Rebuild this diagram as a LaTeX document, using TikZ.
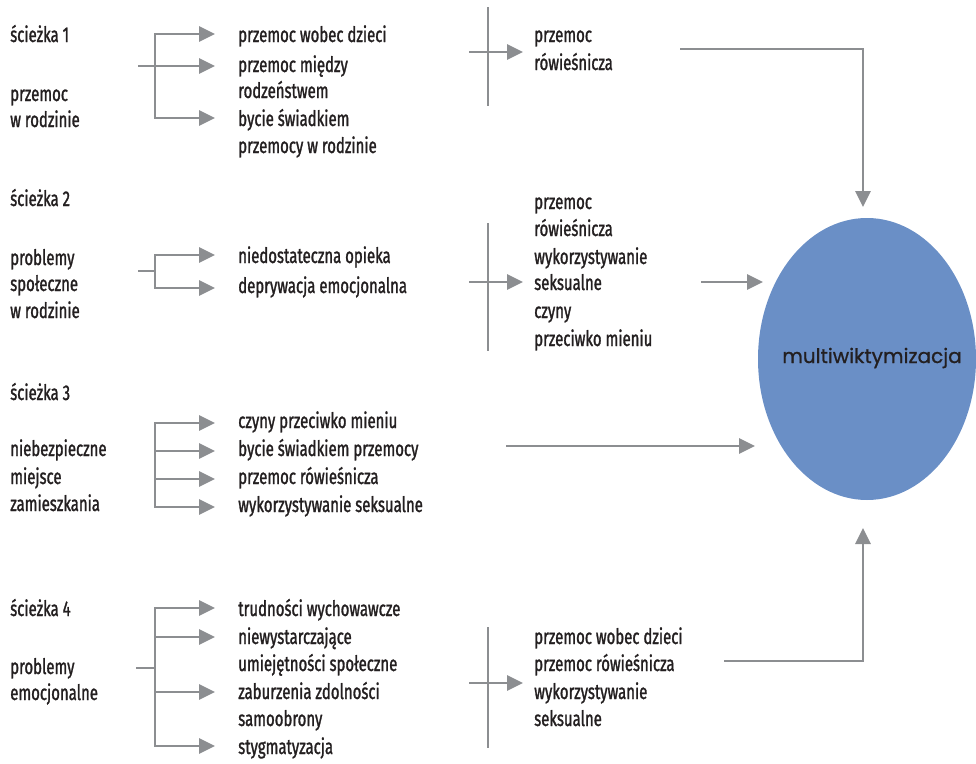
\documentclass[tikz,border=0pt]{standalone}
\usepackage{fontspec}
\setmainfont{Fira Sans}[FakeStretch=0.70,FakeBold=1.3,BoldFont={Fira Sans}]
\newfontfamily\ellfont{Poppins}[FakeBold=0.8,BoldFont={Poppins}]
\usetikzlibrary{arrows.meta,shapes.geometric}
\definecolor{txt}{HTML}{231F20}
\definecolor{ln}{HTML}{8C8E91}
\definecolor{ellc}{HTML}{6A8FC6}
\tikzset{
  lbl/.style={anchor=base west, inner sep=0pt, text=txt, font=\fontsize{16pt}{20pt}\selectfont\bfseries},
  conn/.style={draw=ln, line width=1.3pt, line cap=rect},
  arr/.style={conn, -{Triangle[length=12pt,width=11.5pt]}},
}
\begin{document}
\begin{tikzpicture}[x=0.75pt,y=-0.75pt]
\useasboundingbox (0,0) rectangle (976,764);

% ---------- texts, path 1
\node[lbl] (p1) at (10,42) {ścieżka 1};
\node[lbl] (p1a) at (10,101) {przemoc};
\node[lbl] (p1b) at (10,127) {w rodzinie};
\node[lbl] (m1a) at (238,42) {przemoc wobec dzieci};
\node[lbl] (m1b) at (238,72) {przemoc między};
\node[lbl] (m1c) at (238,98) {rodzeństwem};
\node[lbl] (m1d) at (238,126) {bycie świadkiem};
\node[lbl] (m1e) at (238,153) {przemocy w rodzinie};
\node[lbl] (r1a) at (534,42) {przemoc};
\node[lbl] (r1b) at (534,70) {rówieśnicza};

% ---------- texts, path 2
\node[lbl] (p2) at (10,206) {ścieżka 2};
\node[lbl] (p2a) at (10,265) {problemy};
\node[lbl] (p2b) at (10,291) {społeczne};
\node[lbl] (p2c) at (10,318) {w rodzinie};
\node[lbl] (m2a) at (238,263) {niedostateczna opieka};
\node[lbl] (m2b) at (238,293) {deprywacja emocjonalna};
\node[lbl] (r2a) at (534,209) {przemoc};
\node[lbl] (r2b) at (534,236) {rówieśnicza};
\node[lbl] (r2c) at (534,264) {wykorzystywanie};
\node[lbl] (r2d) at (534,290) {seksualne};
\node[lbl] (r2e) at (534,318) {czyny};
\node[lbl] (r2f) at (534,346) {przeciwko mieniu};

% ---------- texts, path 3
\node[lbl] (p3) at (10,400) {ścieżka 3};
\node[lbl] (p3a) at (10,456) {niebezpieczne};
\node[lbl] (p3b) at (10,484) {miejsce};
\node[lbl] (p3c) at (10,511) {zamieszkania};
\node[lbl] (m3a) at (238,428) {czyny przeciwko mieniu};
\node[lbl] (m3b) at (238,456) {bycie świadkiem przemocy};
\node[lbl] (m3c) at (238,484) {przemoc rówieśnicza};
\node[lbl] (m3d) at (238,512) {wykorzystywanie seksualne};

% ---------- texts, path 4
\node[lbl] (p4) at (10,616) {ścieżka 4};
\node[lbl] (p4a) at (10,674) {problemy};
\node[lbl] (p4b) at (10,700) {emocjonalne};
\node[lbl] (m4a) at (238,616) {trudności wychowawcze};
\node[lbl] (m4b) at (238,644) {niewystarczające};
\node[lbl] (m4c) at (238,671) {umiejętności społeczne};
\node[lbl] (m4d) at (238,699) {zaburzenia zdolności};
\node[lbl] (m4e) at (238,726) {samoobrony};
\node[lbl] (m4f) at (238,754) {stygmatyzacja};
\node[lbl] (r4a) at (534,644) {przemoc wobec dzieci};
\node[lbl] (r4b) at (534,671) {przemoc rówieśnicza};
\node[lbl] (r4c) at (534,699) {wykorzystywanie};
\node[lbl] (r4d) at (534,726) {seksualne};

% ---------- ellipse
\node[ellipse, fill=ellc, draw=none, minimum width=163.5pt, minimum height=211.5pt, inner sep=0pt] (mv) at (867,359) {};
\node[inner sep=0pt, text=txt, font=\ellfont\fontsize{15pt}{18pt}\selectfont\bfseries] (mvt) at (872,358) {multiwiktymizacja};

% ---------- path 1 connectors
\coordinate (s1) at (139,66);
\coordinate (b1t) at (155,34);
\coordinate (b1b) at (155,118);
\coordinate (a1a) at (215,34);
\coordinate (a1b) at (215,66);
\coordinate (a1c) at (215,118);
\draw[arr] (b1b) -- (b1t) -- (a1a);
\draw[arr] (s1) -- (a1b);
\draw[arr] (b1b) -- (a1c);

\coordinate (v1t) at (488,8);
\coordinate (v1b) at (488,105);
\coordinate (h1s) at (470,52);
\coordinate (h1e) at (523,52);
\draw[conn] (v1t) -- (v1b);
\draw[arr] (h1s) -- (h1e);

\coordinate (l1s) at (681,49);
\coordinate (l1c) at (863,49);
\coordinate (l1e) at (863,207);
\draw[arr] (l1s) -- (l1c) -- (l1e);

% ---------- path 2 connectors
\coordinate (s2) at (139,271);
\coordinate (b2m) at (155,271);
\coordinate (b2t) at (155,255);
\coordinate (b2b) at (155,288);
\coordinate (a2a) at (215,255);
\coordinate (a2b) at (215,288);
\draw[conn] (s2) -- (b2m);
\draw[arr] (b2b) -- (b2t) -- (a2a);
\draw[arr] (b2b) -- (a2b);

\coordinate (v2t) at (488,224);
\coordinate (v2b) at (488,350);
\coordinate (h2s) at (470,282);
\coordinate (h2e) at (523,282);
\draw[conn] (v2t) -- (v2b);
\draw[arr] (h2s) -- (h2e);

\coordinate (l2s) at (702,282);
\coordinate (l2e) at (763,282);
\draw[arr] (l2s) -- (l2e);

% ---------- path 3 connectors
\coordinate (b3t) at (155,423);
\coordinate (b3u) at (155,451);
\coordinate (b3v) at (155,479);
\coordinate (b3b) at (155,507);
\coordinate (a3a) at (215,423);
\coordinate (a3b) at (215,451);
\coordinate (a3c) at (215,479);
\coordinate (a3d) at (215,507);
\draw[arr] (b3b) -- (b3t) -- (a3a);
\draw[arr] (b3u) -- (a3b);
\draw[arr] (b3v) -- (a3c);
\draw[arr] (b3b) -- (a3d);

\coordinate (l3s) at (507,446);
\coordinate (l3e) at (755,446);
\draw[arr] (l3s) -- (l3e);

% ---------- path 4 connectors
\coordinate (s4) at (137,668);
\coordinate (b4m) at (155,668);
\coordinate (b4t) at (155,608);
\coordinate (b4u) at (155,637);
\coordinate (b4v) at (155,692);
\coordinate (b4b) at (155,746);
\coordinate (a4a) at (215,608);
\coordinate (a4b) at (215,637);
\coordinate (a4c) at (215,692);
\coordinate (a4d) at (215,746);
\draw[conn] (s4) -- (b4m);
\draw[arr] (b4b) -- (b4t) -- (a4a);
\draw[arr] (b4u) -- (a4b);
\draw[arr] (b4v) -- (a4c);
\draw[arr] (b4b) -- (a4d);

\coordinate (v4t) at (488,628);
\coordinate (v4b) at (488,747);
\coordinate (h4s) at (470,683);
\coordinate (h4e) at (523,683);
\draw[conn] (v4t) -- (v4b);
\draw[arr] (h4s) -- (h4e);

\coordinate (l4s) at (725,661);
\coordinate (l4c) at (863,661);
\coordinate (l4e) at (863,528);
\draw[arr] (l4s) -- (l4c) -- (l4e);
\end{tikzpicture}
\end{document}
